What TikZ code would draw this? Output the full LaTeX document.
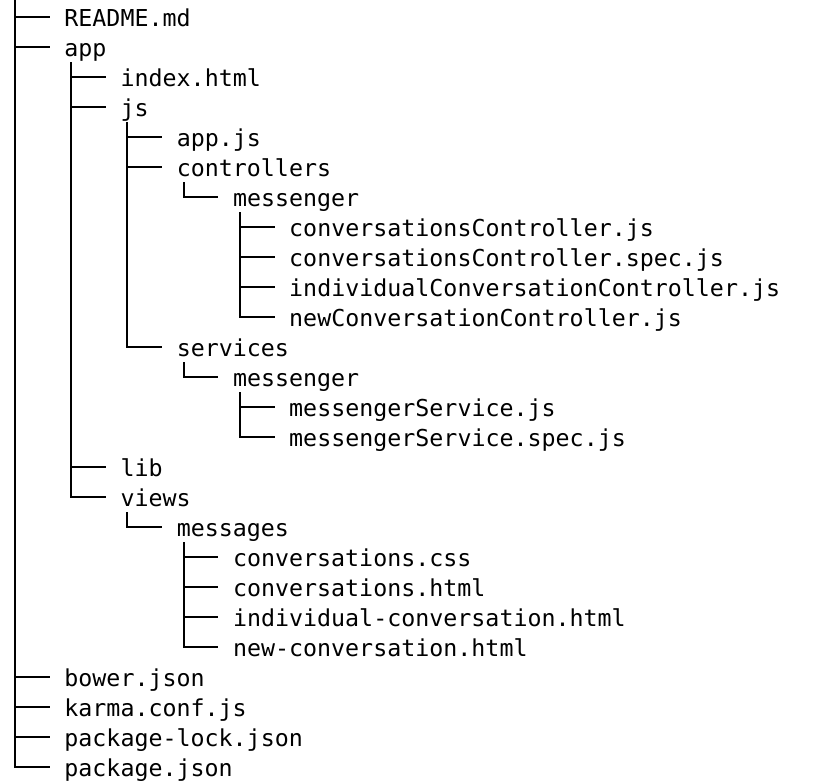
\documentclass[tikz,border=0pt]{standalone}
\usepackage{fontspec}
\newfontfamily\treemono{DejaVu Sans Mono}
\tikzset{
  entry/.style={anchor=west, inner sep=0pt, text height=22pt, text depth=4pt,
    font=\treemono\fontsize{23.3pt}{28pt}\selectfont},
  branchline/.style={line width=2pt, black}
}
\newcommand\branch[2]{\draw[branchline] ([xshift=7pt,yshift=-2pt]#1.south west) |- ([xshift=-14.5pt]#2.west);}
\newcommand\rootbranch[1]{\draw[branchline] (root) |- ([xshift=-14.5pt]#1.west);}
\begin{document}
\begin{tikzpicture}[x=1pt,y=-1pt]
\useasboundingbox (0,0) rectangle (828,780);
\coordinate (root) at (15,0);
% level x: 64.2 120.4 176.6 232.8 289.0 ; rows y = 17 + 30 i
\node[entry] (readme)   at (64.2,17)  {README.md};
\node[entry] (app)      at (64.2,47)  {app};
\node[entry] (index)    at (120.4,77) {index.html};
\node[entry] (js)       at (120.4,107) {js};
\node[entry] (appjs)    at (176.6,137) {app.js};
\node[entry] (ctrl)     at (176.6,167) {controllers};
\node[entry] (msgA)     at (232.8,197) {messenger};
\node[entry] (cc)       at (289.0,227) {conversationsController.js};
\node[entry] (ccs)      at (289.0,257) {conversationsController.spec.js};
\node[entry] (icc)      at (289.0,287) {individualConversationController.js};
\node[entry] (ncc)      at (289.0,317) {newConversationController.js};
\node[entry] (svc)      at (176.6,347) {services};
\node[entry] (msgB)     at (232.8,377) {messenger};
\node[entry] (ms)       at (289.0,407) {messengerService.js};
\node[entry] (mss)      at (289.0,437) {messengerService.spec.js};
\node[entry] (lib)      at (120.4,467) {lib};
\node[entry] (views)    at (120.4,497) {views};
\node[entry] (msgs)     at (176.6,527) {messages};
\node[entry] (ccss)     at (232.8,557) {conversations.css};
\node[entry] (chtml)    at (232.8,587) {conversations.html};
\node[entry] (ichtml)   at (232.8,617) {individual-conversation.html};
\node[entry] (nchtml)   at (232.8,647) {new-conversation.html};
\node[entry] (bower)    at (64.2,677) {bower.json};
\node[entry] (karma)    at (64.2,707) {karma.conf.js};
\node[entry] (plock)    at (64.2,737) {package-lock.json};
\node[entry] (pkg)      at (64.2,767) {package.json};
% connectors
\rootbranch{readme}
\rootbranch{app}
\rootbranch{bower}
\rootbranch{karma}
\rootbranch{plock}
\rootbranch{pkg}
\branch{app}{index}
\branch{app}{js}
\branch{app}{lib}
\branch{app}{views}
\branch{js}{appjs}
\branch{js}{ctrl}
\branch{js}{svc}
\branch{ctrl}{msgA}
\branch{msgA}{cc}
\branch{msgA}{ccs}
\branch{msgA}{icc}
\branch{msgA}{ncc}
\branch{svc}{msgB}
\branch{msgB}{ms}
\branch{msgB}{mss}
\branch{views}{msgs}
\branch{msgs}{ccss}
\branch{msgs}{chtml}
\branch{msgs}{ichtml}
\branch{msgs}{nchtml}
\end{tikzpicture}
\end{document}
